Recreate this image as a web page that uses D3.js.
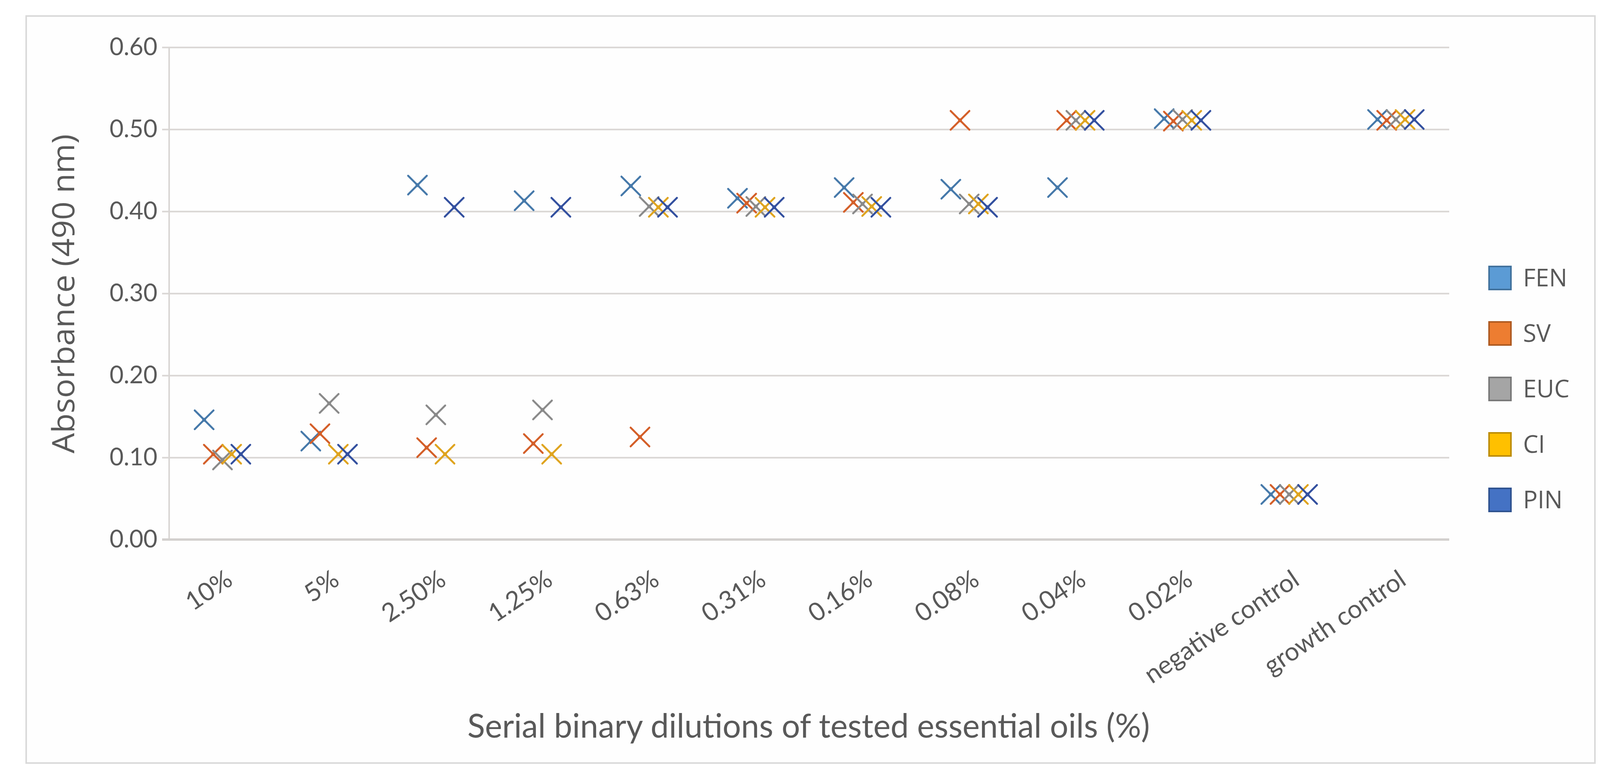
<!DOCTYPE html>
<html>
<head>
<meta charset="utf-8">
<script src="https://cdn.jsdelivr.net/npm/d3@7"></script>
<style>
  body { margin: 0; background: #ffffff; }
  svg { display: block; }
</style>
</head>
<body>
<div id="chart"></div>
<script>
// data
var categories = ["10%", "5%", "2.50%", "1.25%", "0.63%", "0.31%", "0.16%", "0.08%",
                  "0.04%", "0.02%", "negative control", "growth control"];
var seriesNames = ["FEN", "SV", "EUC", "CI", "PIN"];

var fen = [0.146, 0.120, 0.432, 0.413, 0.431, 0.416, 0.429, 0.427, 0.429, 0.513, 0.055, 0.512];
var sv  = [0.104, 0.129, 0.112, 0.117, 0.125, 0.410, 0.411, 0.511, 0.511, 0.510, 0.055, 0.511];
var euc = [0.097, 0.166, 0.152, 0.158, 0.406, 0.406, 0.409, 0.409, 0.511, 0.512, 0.055, 0.512];
var ci  = [0.104, 0.104, 0.104, 0.104, 0.405, 0.405, 0.406, 0.409, 0.511, 0.511, 0.055, 0.512];
var pin = [0.104, 0.104, 0.405, 0.405, 0.405, 0.405, 0.405, 0.405, 0.511, 0.511, 0.055, 0.512];

var yTicks = [0, 0.1, 0.2, 0.3, 0.4, 0.5, 0.6];

var seriesValues = [fen, sv, euc, ci, pin];
var fillColors   = ["#5b9bd5", "#ed7d31", "#a5a5a5", "#ffc000", "#4472c4"];
var borderColors = ["#41719c", "#ae5a21", "#787878", "#bc8c00", "#2f528f"];
var markerColors = ["#4679aa", "#d45f29", "#8a8a8a", "#dfa41f", "#33509f"];

var svgWidth = 4128;
var svgHeight = 1999;

var margin = { top: 121, right: 418, bottom: 618, left: 433 };
var width = svgWidth - margin.left - margin.right;
var height = svgHeight - margin.top - margin.bottom;

var svg = d3.select("#chart")
  .append("svg")
  .attr("width", svgWidth)
  .attr("height", svgHeight);

// outer chart border
svg.append("rect")
  .attr("x", 67)
  .attr("y", 41)
  .attr("width", 4083 - 67)
  .attr("height", 1953 - 41)
  .attr("fill", "#fefefe")
  .attr("stroke", "#d9d9d9")
  .attr("stroke-width", 4);

var chartGroup = svg.append("g")
  .attr("transform", `translate(${margin.left}, ${margin.top})`);

// scales
var xScale = d3.scaleBand()
  .domain(categories)
  .range([0, width])
  .padding(0);

var offsetScale = d3.scalePoint()
  .domain(seriesNames)
  .range([-47, 47]);

var yScale = d3.scaleLinear()
  .domain([0, 0.6])
  .range([height, 0]);

// gridlines + y labels
var leftAxis = d3.axisLeft(yScale)
  .tickValues(yTicks)
  .tickSize(-width)
  .tickPadding(30)
  .tickFormat(d3.format(".2f"));

var yAxisG = chartGroup.append("g").call(leftAxis);
yAxisG.select(".domain").remove();
yAxisG.selectAll(".tick line")
  .attr("x1", -18)
  .attr("stroke", "#d9d6d4")
  .attr("stroke-width", 4);
yAxisG.selectAll(".tick text")
  .attr("font-family", "Lato, 'Open Sans', sans-serif")
  .attr("font-size", 62)
  .attr("fill", "#595959");

// vertical axis line
chartGroup.append("line")
  .attr("x1", 0).attr("x2", 0)
  .attr("y1", 0).attr("y2", height)
  .attr("stroke", "#d9d6d4")
  .attr("stroke-width", 4);

// bottom axis line
chartGroup.append("line")
  .attr("x1", -18).attr("x2", width)
  .attr("y1", height).attr("y2", height)
  .attr("stroke", "#d3d0ce")
  .attr("stroke-width", 6);

// x labels, rotated
var bottomAxis = d3.axisBottom(xScale).tickSize(0).tickPadding(0);
var xAxisG = chartGroup.append("g")
  .attr("transform", `translate(0, ${height})`)
  .call(bottomAxis);
xAxisG.select(".domain").remove();
xAxisG.selectAll(".tick text")
  .attr("font-family", "Lato, 'Open Sans', sans-serif")
  .attr("font-size", 65)
  .attr("fill", "#595959")
  .attr("text-anchor", "end")
  .attr("dy", "0.72em")
  .attr("transform", "translate(4, 74) rotate(-34)");

// X markers
function xMarker(r) {
  return `M${-r},${-r}L${r},${r}M${-r},${r}L${r},${-r}`;
}

seriesNames.forEach(function(name, i) {
  var pts = categories.map(function(c, j) {
    return { cat: c, value: seriesValues[i][j] };
  });

  var g = chartGroup.append("g").attr("class", "series-" + name);

  g.selectAll("path")
    .data(pts)
    .enter()
    .append("path")
    .attr("transform", d => `translate(${xScale(d.cat) + xScale.bandwidth() / 2 + offsetScale(name)}, ${yScale(d.value)})`)
    .attr("d", xMarker(24))
    .attr("fill", "none")
    .attr("stroke", markerColors[i])
    .attr("stroke-width", 5)
    .attr("stroke-linecap", "round");

  g.selectAll("circle")
    .data(pts)
    .enter()
    .append("circle")
    .attr("cx", d => xScale(d.cat) + xScale.bandwidth() / 2 + offsetScale(name))
    .attr("cy", d => yScale(d.value))
    .attr("r", 5)
    .attr("fill", markerColors[i]);
});

// legend
var legend = svg.append("g")
  .attr("transform", "translate(3810, 711)");

var legendItems = legend.selectAll("g")
  .data(seriesNames)
  .enter()
  .append("g")
  .attr("transform", (d, i) => `translate(0, ${i * 142})`);

legendItems.append("rect")
  .attr("x", 2)
  .attr("y", -29)
  .attr("width", 56)
  .attr("height", 59)
  .attr("fill", (d, i) => fillColors[i])
  .attr("stroke", (d, i) => borderColors[i])
  .attr("stroke-width", 4);

legendItems.append("text")
  .attr("x", 89)
  .attr("y", 0)
  .attr("dy", "0.36em")
  .attr("font-family", "'Open Sans', sans-serif")
  .attr("font-size", 62)
  .attr("fill", "#595959")
  .text(d => d);

// axis titles
svg.append("text")
  .attr("transform", "translate(190, 752) rotate(-90)")
  .attr("text-anchor", "middle")
  .attr("font-family", "'Open Sans', sans-serif")
  .attr("font-size", 78)
  .attr("fill", "#595959")
  .attr("textLength", 817)
  .attr("lengthAdjust", "spacingAndGlyphs")
  .text("Absorbance (490 nm)");

svg.append("text")
  .attr("x", 2070)
  .attr("y", 1888)
  .attr("text-anchor", "middle")
  .attr("font-family", "Lato, 'Open Sans', sans-serif")
  .attr("font-size", 86)
  .attr("fill", "#595959")
  .attr("textLength", 1747)
  .attr("lengthAdjust", "spacingAndGlyphs")
  .text("Serial binary dilutions of tested essential oils (%)");
</script>
</body>
</html>
